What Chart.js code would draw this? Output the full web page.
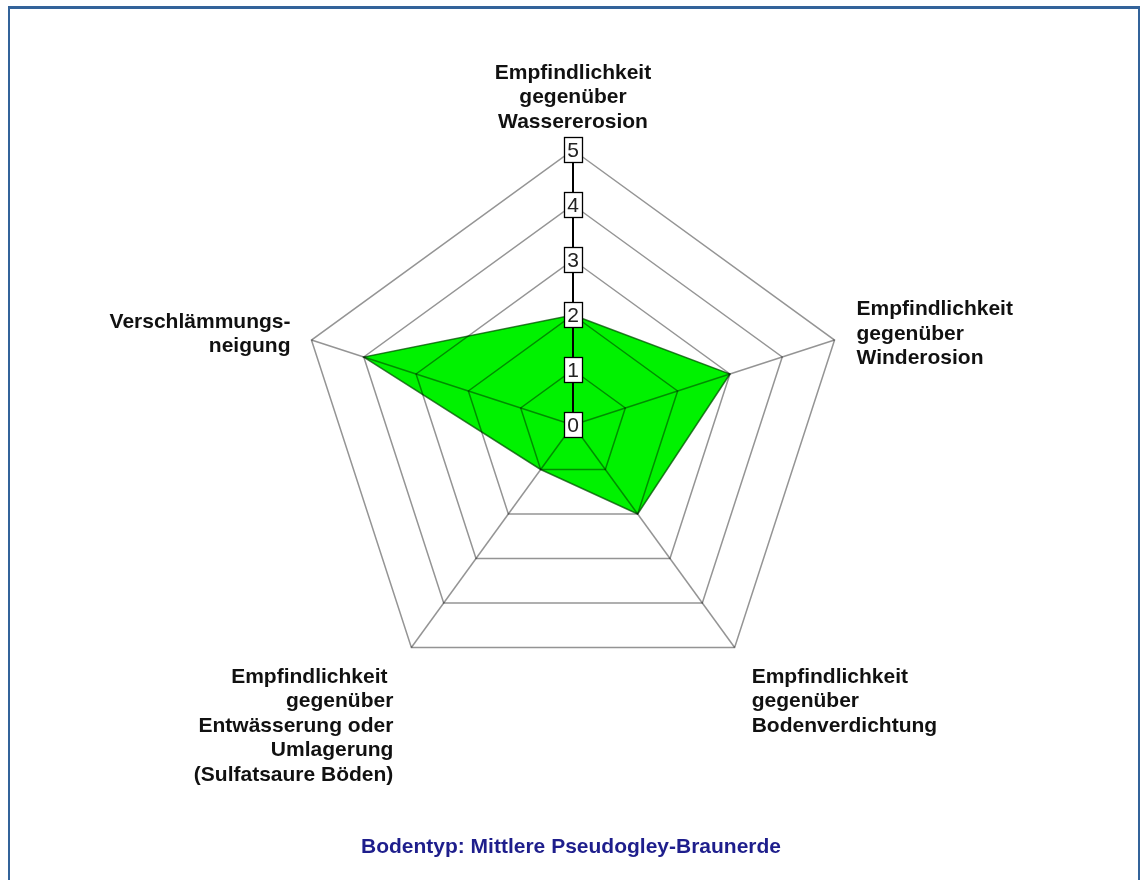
<!DOCTYPE html>
<html>
<head>
<meta charset="utf-8">
<script src="https://cdn.jsdelivr.net/npm/chart.js@4/dist/chart.umd.min.js"></script>
<style>
  html, body { margin: 0; padding: 0; background: #ffffff; }
  #wrap { position: relative; width: 1145px; height: 880px; overflow: hidden; }
  #frame { position: absolute; left: 8px; top: 6px; width: 1132px; height: 900px;
           border: 2px solid #33639a; border-top-width: 3px; box-sizing: border-box; }
  canvas { position: absolute; left: 0; top: 0; }
</style>
</head>
<body>
<div id="wrap">
  <div id="frame"></div>
  <canvas id="c" width="1145" height="880"></canvas>
</div>
<script>
const categories = [
  ["Empfindlichkeit", "gegenüber", "Wassererosion"],
  ["Empfindlichkeit", "gegenüber", "Winderosion"],
  ["Empfindlichkeit", "gegenüber", "Bodenverdichtung"],
  ["Empfindlichkeit ", "gegenüber", "Entwässerung oder", "Umlagerung", "(Sulfatsaure Böden)"],
  ["Verschlämmungs-", "neigung"]
];
const values = [2, 3, 2, 1, 4];
const tickValues = [0, 1, 2, 3, 4, 5];
const tickLabels = ["0", "1", "2", "3", "4", "5"];
const titleText = "Bodentyp: Mittlere Pseudogley-Braunerde";

const FONT = '"Liberation Sans", Arial, Helvetica, sans-serif';

const decorPlugin = {
  id: 'decor',
  afterDraw(chart) {
    const ctx = chart.ctx;
    const scale = chart.scales.r;
    ctx.save();
    // point labels
    ctx.font = 'bold 21px ' + FONT;
    ctx.fillStyle = '#111111';
    ctx.textBaseline = 'middle';
    const LH = 24.5;
    categories.forEach((lines, i) => {
      const pos = scale.getPointPositionForValue(i, scale.max);
      let deg = Math.round((pos.angle + Math.PI / 2) * 180 / Math.PI);
      deg = ((deg % 360) + 360) % 360;
      const n = lines.length;
      lines.forEach((line, k) => {
        let x, y, align;
        if (deg === 0) {
          align = 'center'; x = pos.x;
          y = pos.y - 28 - (n - 1 - k) * LH;
        } else if (deg < 90 || deg > 270) {
          align = deg < 180 ? 'left' : 'right';
          x = pos.x + (deg < 180 ? 22 : -21);
          y = pos.y - 6 + (k - (n - 1) / 2) * LH;
        } else {
          align = deg < 180 ? 'left' : 'right';
          x = pos.x + (deg < 180 ? 17 : -18);
          y = pos.y + 29.5 + k * LH;
        }
        ctx.textAlign = align;
        ctx.fillText(line, x, y);
      });
    });
    // tick boxes
    ctx.font = '21px ' + FONT;
    ctx.textAlign = 'center';
    ctx.textBaseline = 'middle';
    tickValues.forEach((v, j) => {
      const p = scale.getPointPositionForValue(0, v);
      const bx = Math.round(p.x) - 9 + 0.5, by = Math.round(p.y) - 12.5;
      ctx.fillStyle = '#ffffff';
      ctx.fillRect(bx, by, 18, 25);
      ctx.strokeStyle = '#000000';
      ctx.lineWidth = 1.3;
      ctx.strokeRect(bx, by, 18, 25);
      ctx.fillStyle = '#222222';
      ctx.fillText(tickLabels[j], p.x, p.y + 1);
    });
    // title
    ctx.font = 'bold 21px ' + FONT;
    ctx.fillStyle = '#1e1e8c';
    ctx.textAlign = 'center';
    ctx.fillText(titleText, 571, 847);
    ctx.restore();
  }
};

new Chart(document.getElementById('c'), {
  type: 'radar',
  data: {
    labels: categories,
    datasets: [{
      data: values,
      backgroundColor: '#00f200',
      borderColor: 'rgba(0,80,0,0.75)',
      borderWidth: 1.5,
      pointRadius: 0,
      pointHoverRadius: 0,
      fill: true
    }]
  },
  options: {
    responsive: false,
    devicePixelRatio: 1,
    animation: false,
    layout: { padding: { left: 298, top: 150, right: 297, bottom: 180 } },
    plugins: {
      legend: { display: false },
      tooltip: { enabled: false },
      title: { display: false }
    },
    scales: {
      r: {
        min: 0,
        max: 5,
        ticks: { display: false, stepSize: 1 },
        pointLabels: { display: false },
        grid: { color: 'rgba(0,0,0,0.42)', lineWidth: 1.5, z: 1 },
        angleLines: {
          color: (c) => c.index === 0 ? '#000000' : 'rgba(0,0,0,0.42)',
          lineWidth: (c) => c.index === 0 ? 2 : 1.5
        }
      }
    }
  },
  plugins: [decorPlugin]
});
</script>
</body>
</html>
